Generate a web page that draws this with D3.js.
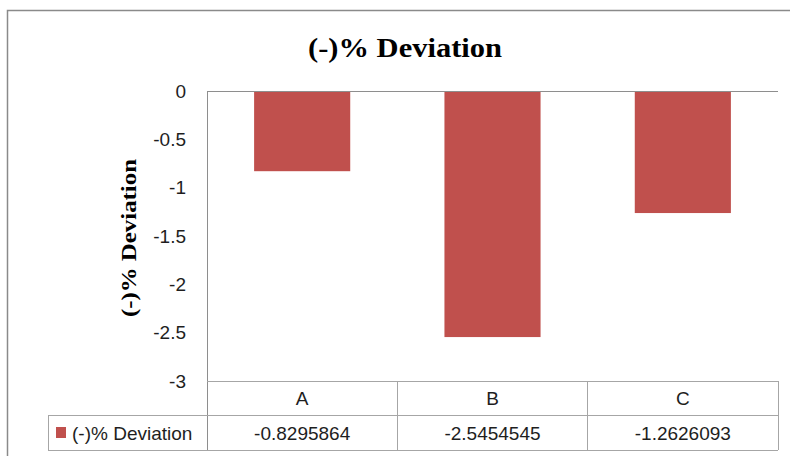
<!DOCTYPE html>
<html>
<head>
<meta charset="utf-8">
<script src="https://cdn.jsdelivr.net/npm/d3@7"></script>
<style>
  html, body { margin: 0; padding: 0; background: #fff; }
  svg { display: block; }
</style>
</head>
<body>
<svg id="chart" width="790" height="456"></svg>
<script>
// Data
const categories = ["A", "B", "C"];
const seriesName = "(-)% Deviation";
const values = [-0.8295864, -2.5454545, -1.2626093];
const valueLabels = ["-0.8295864", "-2.5454545", "-1.2626093"];
const yTicks = [0, -0.5, -1, -1.5, -2, -2.5, -3];
const yTickLabels = ["0", "-0.5", "-1", "-1.5", "-2", "-2.5", "-3"];

const svg = d3.select("#chart");
const barColor = "#C0504D";
const lineColor = "#8E8E8E";
const textColor = "#1e1e1e";
const sansFont = "'Liberation Sans', Arial, sans-serif";
const serifFont = "'Liberation Serif', 'Times New Roman', serif";
const fs = 19;

// Outer chart frame (runs past the window on the right and bottom)
svg.append("rect")
  .attr("x", 7.5).attr("y", 10.5)
  .attr("width", 820).attr("height", 480)
  .attr("fill", "#fff")
  .attr("stroke", "#8a8a8a").attr("stroke-width", 1.5);

// Plot geometry
const plot = { left: 207, right: 778, top: 91, bottom: 381 };
const tableRow1 = 415, tableBottom = 450, legendLeft = 48;

const x = d3.scaleBand().domain(categories).range([plot.left, plot.right]).paddingInner(0).paddingOuter(0);
const y = d3.scaleLinear().domain([0, -3]).range([plot.top, plot.bottom]);
const barW = x.bandwidth() * 0.505;

// Title
svg.append("text")
  .attr("x", 405).attr("y", 57)
  .attr("text-anchor", "middle")
  .attr("font-family", serifFont).attr("font-weight", "bold")
  .attr("font-size", 27)
  .attr("textLength", 194).attr("lengthAdjust", "spacingAndGlyphs")
  .text(seriesName);

// Y axis title
svg.append("text")
  .attr("transform", "translate(136,238) rotate(-90)")
  .attr("text-anchor", "middle")
  .attr("font-family", serifFont).attr("font-weight", "bold")
  .attr("font-size", 22)
  .attr("textLength", 158).attr("lengthAdjust", "spacingAndGlyphs")
  .text(seriesName);

// Y axis (labels only, no tick marks)
const yAxis = d3.axisLeft(y).tickValues(yTicks)
  .tickFormat((d, i) => yTickLabels[i]).tickSize(0).tickPadding(21);
const yg = svg.append("g").attr("transform", `translate(${plot.left},0)`).call(yAxis);
yg.select(".domain").remove();
yg.selectAll("text")
  .attr("font-family", sansFont).attr("font-size", fs).attr("fill", textColor);

// Bars
svg.append("g").selectAll("rect").data(values).join("rect")
  .attr("x", (d, i) => x(categories[i]) + (x.bandwidth() - barW) / 2)
  .attr("y", d => y(0))
  .attr("width", barW)
  .attr("height", d => y(d) - y(0))
  .attr("fill", barColor);

// Axis lines
const lines = svg.append("g").attr("stroke", lineColor).attr("stroke-width", 1).attr("shape-rendering", "crispEdges");
lines.append("line").attr("x1", plot.left).attr("x2", plot.right).attr("y1", y(0)).attr("y2", y(0));
lines.append("line").attr("x1", plot.left).attr("x2", plot.left).attr("y1", y(0)).attr("y2", tableBottom);

// Data table
const tbl = svg.append("g").attr("stroke", "#A6A6A6").attr("stroke-width", 1).attr("shape-rendering", "crispEdges");
tbl.append("line").attr("x1", plot.left).attr("x2", plot.right).attr("y1", y(-3)).attr("y2", y(-3));
tbl.append("line").attr("x1", legendLeft).attr("x2", plot.right).attr("y1", tableRow1).attr("y2", tableRow1);
tbl.append("line").attr("x1", legendLeft).attr("x2", plot.right).attr("y1", tableBottom).attr("y2", tableBottom);
tbl.append("line").attr("x1", legendLeft).attr("x2", legendLeft).attr("y1", tableRow1).attr("y2", tableBottom);
categories.forEach(c => {
  tbl.append("line").attr("x1", x(c) + x.bandwidth()).attr("x2", x(c) + x.bandwidth())
    .attr("y1", y(-3)).attr("y2", tableBottom);
});

// Category labels row
svg.append("g").selectAll("text").data(categories).join("text")
  .attr("x", d => x(d) + x.bandwidth() / 2)
  .attr("y", 405)
  .attr("text-anchor", "middle")
  .attr("font-family", sansFont).attr("font-size", fs).attr("fill", textColor)
  .text(d => d);

// Value row
svg.append("g").selectAll("text").data(valueLabels).join("text")
  .attr("x", (d, i) => x(categories[i]) + x.bandwidth() / 2)
  .attr("y", 440)
  .attr("text-anchor", "middle")
  .attr("font-family", sansFont).attr("font-size", fs).attr("fill", textColor)
  .text(d => d);

// Legend key in table
svg.append("rect")
  .attr("x", 56).attr("y", 427).attr("width", 10).attr("height", 11)
  .attr("fill", barColor);
svg.append("text")
  .attr("x", 72).attr("y", 440)
  .attr("font-family", sansFont).attr("font-size", fs).attr("fill", textColor)
  .text(seriesName);
</script>
</body>
</html>
